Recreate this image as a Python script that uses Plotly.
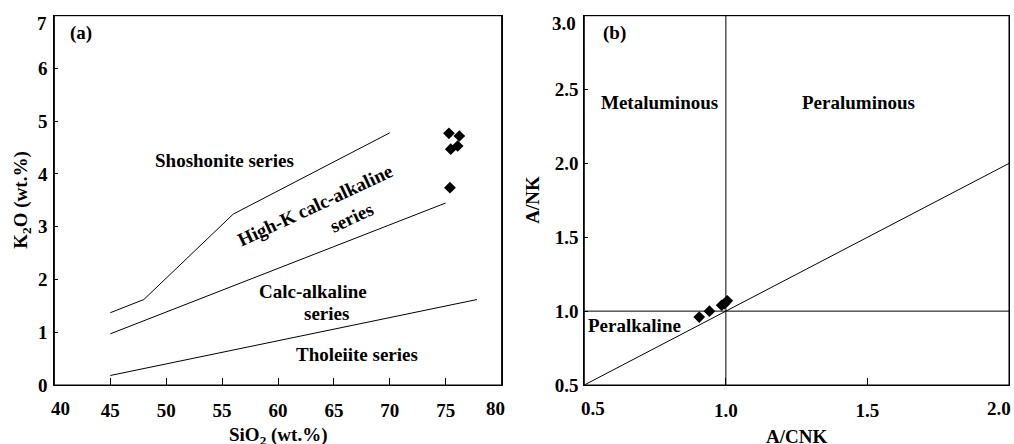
import plotly.graph_objects as go
from plotly.subplots import make_subplots

# ---- Data: panel (a) SiO2 vs K2O ----
sho_x = [45, 48, 56, 70]
sho_y = [1.37, 1.62, 3.24, 4.78]
hk_x = [45, 75]
hk_y = [0.97, 3.45]
ca_x = [45, 56, 77.8]
ca_y = [0.18, 0.66, 1.62]
sio2 = [75.29, 76.22, 75.45, 76.07, 75.38]
k2o = [4.77, 4.72, 4.47, 4.53, 3.74]

# ---- Data: panel (b) A/CNK vs A/NK ----
div_x = [0.5, 2.0]
div_y = [0.5, 2.0]
acnk = [0.906, 0.942, 0.985, 0.995, 1.005]
ank = [0.96, 1.00, 1.04, 1.05, 1.07]

xa_ticks = [40, 45, 50, 55, 60, 65, 70, 75, 80]
xa_text = [" ", "45", "50", "55", "60", "65", "70", "75", " "]
ya_ticks = [0, 1, 2, 3, 4, 5, 6, 7]
ya_text = ["0", "1", "2", "3", "4", "5", "6", " "]
xb_ticks = [0.5, 1.0, 1.5, 2.0]
xb_text = [" ", "1.0", "1.5", " "]
yb_ticks = [0.5, 1.0, 1.5, 2.0, 2.5, 3.0]
yb_text = ["0.5", "1.0", "1.5", "2.0", "2.5", " "]

FONT = "Liberation Serif"
W, H = 1014, 444


def fx(p):  # page pixel x -> paper fraction
    return p / W


def fy(p):  # page pixel y -> paper fraction
    return 1 - p / H


fig = make_subplots(rows=1, cols=2)

line_style = dict(color="black", width=1)
for xs, ys in [(sho_x, sho_y), (hk_x, hk_y), (ca_x, ca_y)]:
    fig.add_trace(go.Scatter(x=xs, y=ys, mode="lines", line=line_style,
                             showlegend=False, hoverinfo="skip"), row=1, col=1)
fig.add_trace(go.Scatter(x=sio2, y=k2o, mode="markers",
                         marker=dict(symbol="diamond", size=9, color="black"),
                         showlegend=False), row=1, col=1)

fig.add_trace(go.Scatter(x=div_x, y=div_y, mode="lines", line=line_style,
                         showlegend=False, hoverinfo="skip"), row=1, col=2)
fig.add_trace(go.Scatter(x=[1.0, 1.0], y=[0.5, 3.0], mode="lines", line=line_style,
                         showlegend=False, hoverinfo="skip"), row=1, col=2)
fig.add_trace(go.Scatter(x=[0.5, 2.0], y=[1.0, 1.0], mode="lines", line=line_style,
                         showlegend=False, hoverinfo="skip"), row=1, col=2)
fig.add_trace(go.Scatter(x=acnk, y=ank, mode="markers",
                         marker=dict(symbol="diamond", size=9, color="black"),
                         showlegend=False), row=1, col=2)

TICK_SIZE = 19
tickfont = dict(family=FONT, size=TICK_SIZE, color="black", weight="bold")
common = dict(showgrid=False, zeroline=False, showline=True, linecolor="black",
              linewidth=1, mirror=True, ticks="inside", tickcolor="black",
              tickfont=tickfont, automargin=False, ticklabeloverflow="allow")

xa_dom = [fx(54.4), fx(501.6)]
xb_dom = [fx(584.3), fx(1009)]
y_dom = [fy(385), fy(15.7)]

fig.update_xaxes(range=[40, 80], tickvals=xa_ticks, ticktext=xa_text, ticklen=7,
                 domain=xa_dom, ticklabelstandoff=8, **common, row=1, col=1)
fig.update_yaxes(range=[0, 7], tickvals=ya_ticks, ticktext=ya_text, ticklen=4,
                 domain=y_dom, ticklabelstandoff=2, **common, row=1, col=1)
fig.update_xaxes(range=[0.5, 2.0], tickvals=xb_ticks, ticktext=xb_text,
                 ticklen=7, domain=xb_dom, ticklabelstandoff=8, **common, row=1, col=2)
fig.update_yaxes(range=[0.5, 3.0], tickvals=yb_ticks, ticktext=yb_text,
                 ticklen=4, domain=y_dom, ticklabelstandoff=1, **common, row=1, col=2)

# frame around each panel
for xr, yr in [("x", "y"), ("x2", "y2")]:
    fig.add_shape(type="rect", xref=f"{xr} domain", yref=f"{yr} domain",
                  x0=0, x1=1, y0=0, y1=1, line=dict(color="black", width=1),
                  fillcolor="rgba(0,0,0,0)", layer="above")

afont = dict(family=FONT, size=19, color="black", weight="bold")


def ann(text, x, y, xref, yref, angle=0, size=19, xanchor="center"):
    f = dict(afont)
    f["size"] = size
    fig.add_annotation(text=text, x=x, y=y, xref=xref, yref=yref, showarrow=False,
                       textangle=angle, font=f, xanchor=xanchor, yanchor="middle")


# panel (a)
ann("(a)", 42.4, 6.67, "x", "y")
ann("Shoshonite series", 55.2, 4.25, "x", "y")
ann("High-K calc-alkaline", 63.3, 3.4, "x", "y", angle=-25)
ann("series", 66.6, 3.17, "x", "y", angle=-25)
ann("Calc-alkaline", 63.1, 1.77, "x", "y")
ann("series", 64.35, 1.36, "x", "y")
ann("Tholeiite series", 67.1, 0.57, "x", "y")

# panel (b)
ann("(b)", 0.605, 2.88, "x2", "y2")
ann("Metaluminous", 0.767, 2.41, "x2", "y2")
ann("Peraluminous", 1.468, 2.41, "x2", "y2")
ann("Peralkaline", 0.679, 0.906, "x2", "y2")

# edge tick labels, nudged inward as in the reference
ann(str(ya_ticks[-1]), fx(49), fy(23), "paper", "paper", size=TICK_SIZE, xanchor="right")
ann("3.0", fx(578), fy(23), "paper", "paper", size=TICK_SIZE, xanchor="right")
ann(str(xa_ticks[0]), fx(60), fy(408), "paper", "paper", size=TICK_SIZE)
ann(str(xa_ticks[-1]), fx(495), fy(408), "paper", "paper", size=TICK_SIZE)
ann("0.5", fx(593), fy(408), "paper", "paper", size=TICK_SIZE)
ann("2.0", fx(999), fy(408), "paper", "paper", size=TICK_SIZE)

# axis titles
ann("SiO<sub>2</sub> (wt.%)", fx(278), fy(436), "paper", "paper")
ann("K<sub>2</sub>O (wt.%)", fx(21.7), fy(200), "paper", "paper", angle=-90)
ann("A/CNK", fx(796), fy(436), "paper", "paper")
ann("A/NK", fx(531.7), fy(200), "paper", "paper", angle=-90)

fig.update_layout(width=W, height=H, margin=dict(l=0, r=0, t=0, b=0),
                  paper_bgcolor="white", plot_bgcolor="white",
                  font=dict(family=FONT, color="black"))

fig.write_html(
    "out.html",
    config={"displayModeBar": False},
    post_script="document.body.style.margin='0';document.body.style.overflow='hidden';",
)
